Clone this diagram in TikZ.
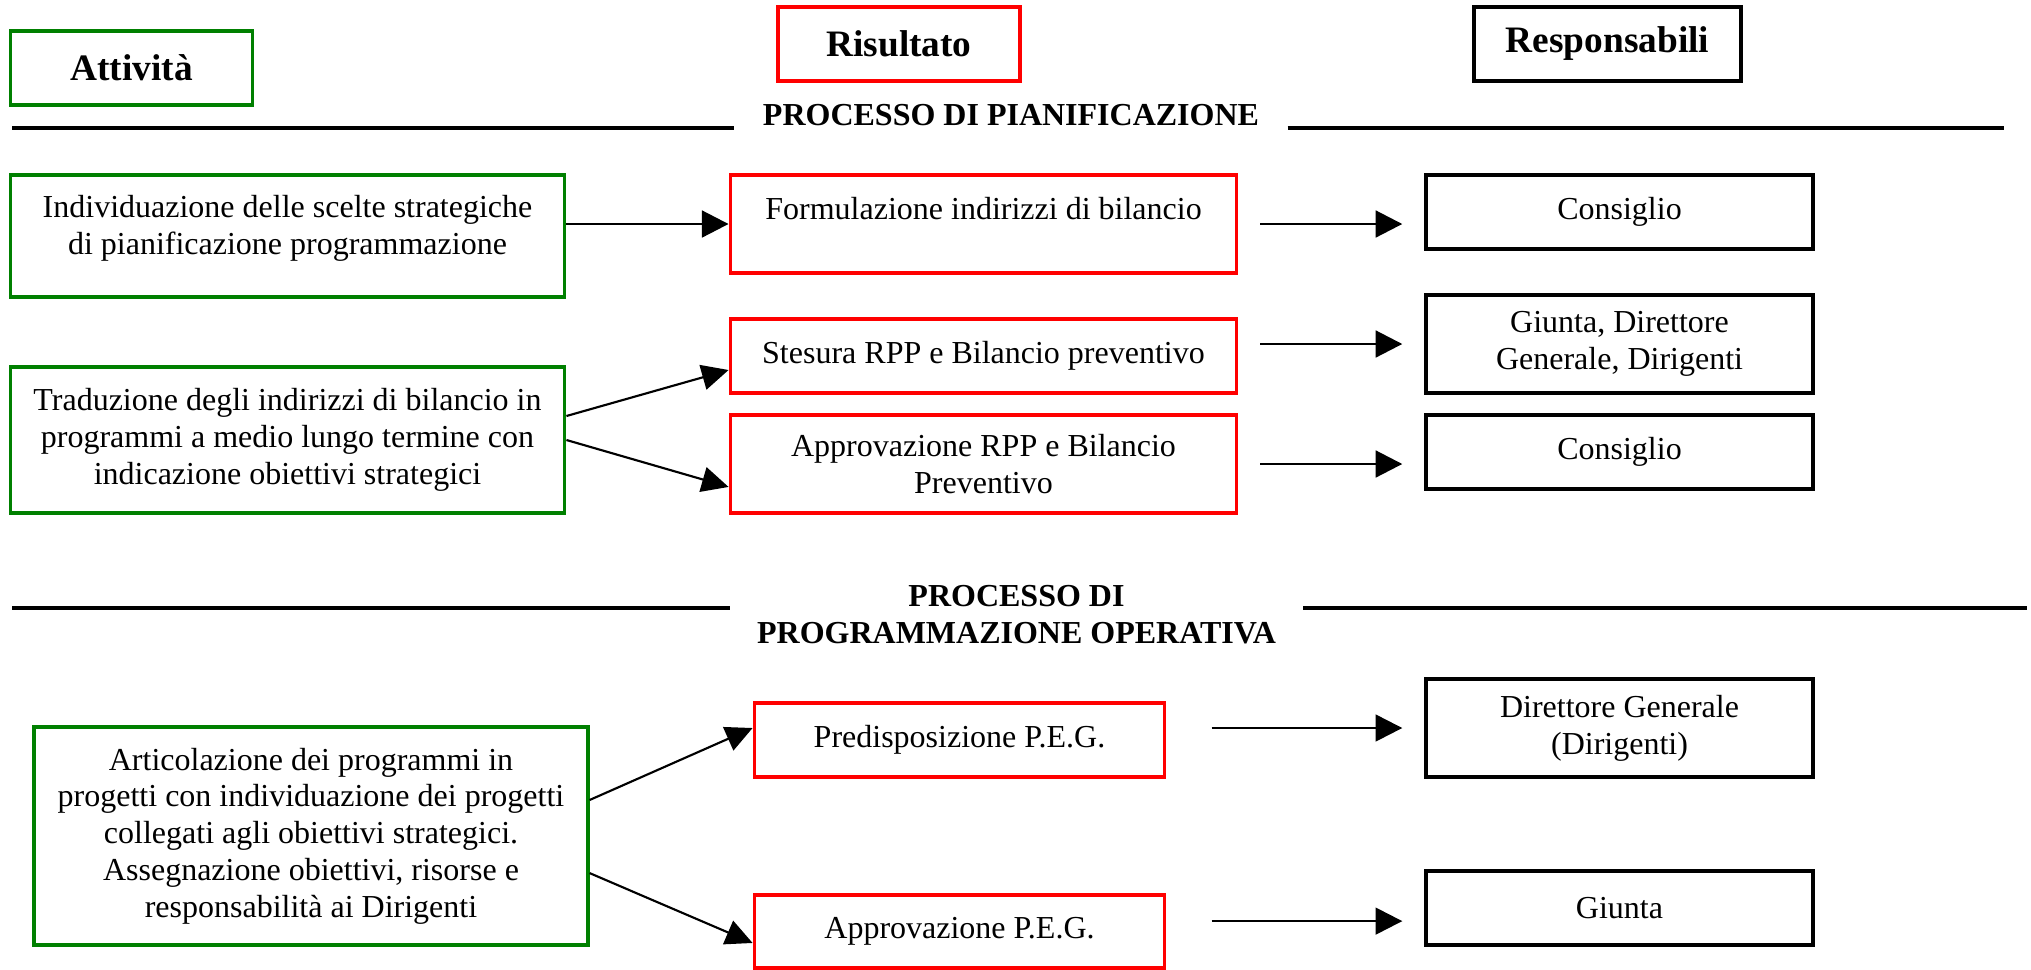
\documentclass[tikz,border=0pt]{standalone}
\usepackage{fontspec}
\setmainfont{Liberation Serif}
\usetikzlibrary{arrows.meta, positioning}
\definecolor{verdebox}{HTML}{008000}
\definecolor{rossobox}{HTML}{FF0000}

\begin{document}
\begin{tikzpicture}[x=0.375pt, y=-0.375pt,
			every node/.style={font=\fontsize{12}{13.8}\selectfont, align=center},
			verde/.style={draw=verdebox, line width=1.2pt},
			rosso/.style={draw=rossobox, line width=1.2pt},
			nero/.style={draw=black, line width=1.4pt},
			intest/.style={font=\fontsize{14}{16}\selectfont\bfseries, minimum height=27.75pt},
			titolo/.style={font=\fontsize{12}{13.8}\selectfont\bfseries, inner xsep=10.5pt},
			freccia/.style={-{Triangle[length=10pt, width=10pt]}, line width=1.1pt},
			diag/.style={-{Triangle[length=10pt, width=9.5pt]}, line width=0.8pt},
			regola/.style={line width=1.4pt}]
			
			\useasboundingbox (0,0) rectangle (2031,969);
			
			% Intestazioni delle colonne
			\node[verde, intest, minimum width=91pt] (att) at (131.5,68) {Attività};
			\node[rosso, intest, minimum width=90.75pt] (ris) at (899,44) {Risultato};
			\node[nero, intest, minimum width=100pt] (resp) at (1607.5,44) {Responsabili};
			
			% --- Processo di pianificazione ---
			\node[titolo] (t1) at (1011,115.5) {PROCESSO DI PIANIFICAZIONE};
			\coordinate (l1) at (12,128);
			\coordinate (r1) at (2004,128);
			\draw[regola] (l1) -- (l1 -| t1.west);
			\draw[regola] (t1.east |- r1) -- (r1);
			
			\node[verde, minimum width=208pt, minimum height=45.75pt, text depth=8.6pt] (a1) at (287.5,236)
				{Individuazione delle scelte strategiche\\di pianificazione programmazione};
			\node[rosso, minimum width=190pt, minimum height=36.75pt, text depth=12pt] (f1) at (983.5,224)
				{Formulazione indirizzi di bilancio};
			\node[nero, minimum width=145pt, minimum height=27.75pt] (c1) at (1619.5,212) {Consiglio};
			
			\node[verde, minimum width=208pt, minimum height=54.75pt] (a2) at (287.5,440)
				{Traduzione degli indirizzi di bilancio in\\programmi a medio lungo termine con\\indicazione obiettivi strategici};
			\node[rosso, minimum width=190pt, minimum height=27.75pt] (s2) at (983.5,356)
				{Stesura RPP e Bilancio preventivo};
			\node[rosso, minimum width=190pt, minimum height=36.75pt] (r2) at (983.5,464)
				{Approvazione RPP e Bilancio\\Preventivo};
			\node[nero, minimum width=145pt, minimum height=36.75pt] (g2) at (1619.5,344)
				{Giunta, Direttore\\Generale, Dirigenti};
			\node[nero, minimum width=145pt, minimum height=27.75pt] (c2) at (1619.5,452) {Consiglio};
			
			% Da attività a risultato
			\draw[freccia] (a1.east |- f1) -- (f1.west);
			\draw[diag] ([yshift=9pt]a2.east) -- ([yshift=-5.25pt]s2.west);
			\draw[diag] (a2.east) -- ([yshift=-8.6pt]r2.west);
			
			% Da risultato a responsabili
			\draw[freccia, shorten <=8.25pt, shorten >=8.25pt] (f1.east) -- (f1.east -| c1.west);
			\draw[freccia, shorten <=8.25pt, shorten >=8.25pt] (s2.east |- g2) -- (g2.west);
			\draw[freccia, shorten <=8.25pt, shorten >=8.25pt] (r2.east) -- (r2.east -| c2.west);
			
			% --- Processo di programmazione operativa ---
			\node[titolo, inner xsep=10pt] (t2) at (1016.5,614.5) {PROCESSO DI\\PROGRAMMAZIONE OPERATIVA};
			\coordinate (l2) at (12,608);
			\coordinate (r2r) at (2027,608);
			\draw[regola] (l2) -- (l2 -| t2.west);
			\draw[regola] (t2.east |- r2r) -- (r2r);
			
			\node[verde, minimum width=207.75pt, minimum height=81.75pt] (a3) at (311,836)
				{Articolazione dei programmi in\\progetti con individuazione dei progetti\\collegati agli obiettivi strategici.\\Assegnazione obiettivi, risorse e\\responsabilità ai Dirigenti};
			\node[rosso, minimum width=154pt, minimum height=27.75pt] (p3) at (959.5,740) {Predisposizione P.E.G.};
			\node[rosso, minimum width=154pt, minimum height=27.4pt] (e3) at (959.5,931.5) {Approvazione P.E.G.};
			\node[nero, minimum width=145pt, minimum height=36.75pt] (d3) at (1619.5,728)
				{Direttore Generale\\(Dirigenti)};
			\node[nero, minimum width=145pt, minimum height=27.75pt] (g3) at (1619.5,908) {Giunta};
			
			\draw[diag] ([yshift=13.5pt]a3.east) -- ([yshift=4.5pt]p3.west);
			\draw[diag] ([yshift=-13.9pt]a3.east) -- ([yshift=-4.3pt]e3.west);
			
			\draw[freccia, line width=0.9pt, shorten <=16.9pt, shorten >=8.25pt] (p3.east |- d3) -- (d3.west);
			\draw[freccia, line width=0.9pt, shorten <=16.9pt, shorten >=8.25pt] ([yshift=3.9pt]e3.east) -- ([yshift=3.9pt]e3.east -| g3.west);
		\end{tikzpicture}
\end{document}
